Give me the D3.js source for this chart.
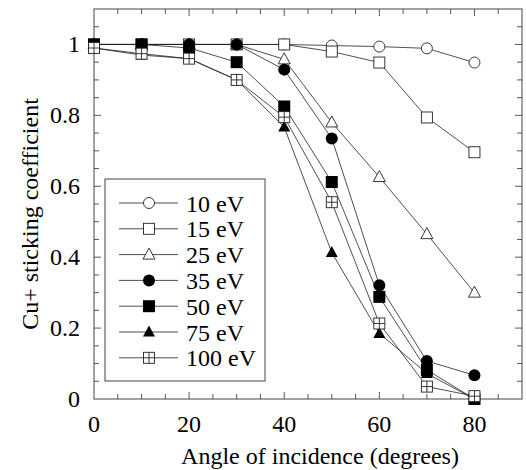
<!DOCTYPE html>
<html>
<head>
<meta charset="utf-8">
<script src="https://cdn.jsdelivr.net/npm/d3@7"></script>
<style>
  body { margin: 0; background: #fff; }
  svg { display: block; }
</style>
</head>
<body>
<svg id="chart" width="526" height="470"></svg>
<script>
// Incidence angles (degrees)
const angles = [0, 10, 20, 30, 40, 50, 60, 70, 80];

// Sticking coefficient per ion energy
const s10  = [1.00, 1.00, 1.00, 1.00, 1.000, 0.997, 0.994, 0.989, 0.949];
const s15  = [1.00, 1.00, 1.00, 1.00, 1.000, 0.980, 0.949, 0.794, 0.696];
const s25  = [1.00, 1.00, 1.00, 1.00, 0.958, 0.780, 0.626, 0.465, 0.300];
const s35  = [1.00, 1.00, 1.00, 1.00, 0.929, 0.735, 0.321, 0.107, 0.067];
const s50  = [1.00, 1.00, 0.99, 0.95, 0.825, 0.612, 0.288, 0.082, 0.000];
const s75  = [0.99, 0.97, 0.96, 0.90, 0.767, 0.413, 0.185, 0.072, 0.000];
const s100 = [0.99, 0.974, 0.96, 0.90, 0.795, 0.555, 0.213, 0.035, 0.008];

const seriesLabels = ["10 eV", "15 eV", "25 eV", "35 eV", "50 eV", "75 eV", "100 eV"];
const seriesValues = [s10, s15, s25, s35, s50, s75, s100];
const seriesMarkers = ["circleOpen", "squareOpen", "triangleOpen", "circleFilled", "squareFilled", "triangleFilled", "squarePlus"];
// drawing order (indices into the series arrays)
const drawOrder = [0, 1, 2, 4, 3, 5, 6];

const xTicks = [0, 20, 40, 60, 80];
const yTicks = [0, 0.2, 0.4, 0.6, 0.8, 1];

const FONT = '"Liberation Serif"';
const FS = "24px";

const svg = d3.select("#chart");
const L = 94, T = 9, R = 522, B = 399;

const x = d3.scaleLinear().domain([0, 90]).range([L, R]);
const y = d3.scaleLinear().domain([0, 1.1]).range([B, T]);

const frameColor = "#444";

// minor ticks every 5 degrees / 0.05, all pointing inward
const xMinor = d3.range(5, 90, 5);
const yMinor = d3.range(0.05, 1.1, 0.05);

const g = svg.append("g");

function txt(sel) {
  return sel.style("font-family", FONT).style("font-size", FS).attr("fill", "#000");
}

function axisTicks() {
  const tg = g.append("g").attr("stroke", frameColor).attr("stroke-width", 0.9);
  xMinor.forEach(v => {
    const len = (v % 20 === 0) ? 7 : 5;
    tg.append("line").attr("x1", x(v)).attr("x2", x(v)).attr("y1", B).attr("y2", B - len);
    tg.append("line").attr("x1", x(v)).attr("x2", x(v)).attr("y1", T).attr("y2", T + len);
  });
  yMinor.forEach(v => {
    const major = Math.abs(Math.round(v * 10) - v * 10) < 1e-6 && Math.round(v * 10) % 2 === 0;
    const len = major ? 7 : 5;
    tg.append("line").attr("y1", y(v)).attr("y2", y(v)).attr("x1", L).attr("x2", L + len);
    tg.append("line").attr("y1", y(v)).attr("y2", y(v)).attr("x1", R).attr("x2", R - len);
  });
}
axisTicks();

// frame
g.append("rect")
  .attr("x", L).attr("y", T).attr("width", R - L).attr("height", B - T)
  .attr("fill", "none").attr("stroke", frameColor).attr("stroke-width", 1);

// tick labels
txt(g.selectAll(".xl").data(xTicks).enter().append("text")
  .attr("x", d => x(d)).attr("y", B + 33)
  .attr("text-anchor", "middle"))
  .text(d => d);
txt(g.selectAll(".yl").data(yTicks).enter().append("text")
  .attr("x", L - 14).attr("y", d => y(d) + 7.5)
  .attr("text-anchor", "end"))
  .text(d => d === 0 ? "0" : (d === 1 ? "1" : d.toFixed(1)));

// axis titles
txt(g.append("text").attr("x", 320).attr("y", 464)
  .attr("text-anchor", "middle"))
  .text("Angle of incidence (degrees)");
txt(g.append("text")
  .attr("transform", "translate(38,214) rotate(-90)")
  .attr("text-anchor", "middle"))
  .text("Cu+ sticking coefficient");

// marker drawing
function drawMarker(sel, type, cx, cy) {
  const m = sel.append("g").attr("transform", `translate(${cx},${cy})`);
  const sw = 0.9;
  switch (type) {
    case "circleOpen":
      m.append("circle").attr("r", 5.5).attr("fill", "#fff").attr("stroke", "#222").attr("stroke-width", sw);
      break;
    case "circleFilled":
      m.append("circle").attr("r", 6).attr("fill", "#000");
      break;
    case "squareOpen":
      m.append("rect").attr("x", -5.5).attr("y", -5.5).attr("width", 11).attr("height", 11)
        .attr("fill", "#fff").attr("stroke", "#222").attr("stroke-width", sw);
      break;
    case "squareFilled":
      m.append("rect").attr("x", -6).attr("y", -6).attr("width", 12).attr("height", 12).attr("fill", "#000");
      break;
    case "squarePlus":
      m.append("rect").attr("x", -5.5).attr("y", -5.5).attr("width", 11).attr("height", 11)
        .attr("fill", "#fff").attr("stroke", "#222").attr("stroke-width", sw);
      m.append("path").attr("d", "M0,-5.5V5.5M-5.5,0H5.5").attr("stroke", "#222").attr("stroke-width", sw);
      break;
    case "triangleOpen":
      m.append("path").attr("d", "M0,-6.5L6,4.5L-6,4.5Z")
        .attr("fill", "#fff").attr("stroke", "#222").attr("stroke-width", sw);
      break;
    case "triangleFilled":
      m.append("path").attr("d", "M0,-6.5L6,4.5L-6,4.5Z").attr("fill", "#000");
      break;
  }
}

const line = d3.line().x(d => x(d[0])).y(d => y(d[1]));

const plot = g.append("g");
drawOrder.forEach(i => {
  const pts = angles.map((a, k) => [a, seriesValues[i][k]]);
  plot.append("path").datum(pts).attr("d", line)
    .attr("fill", "none").attr("stroke", "#222").attr("stroke-width", 0.8);
});
drawOrder.forEach(i => {
  angles.forEach((a, k) => drawMarker(plot, seriesMarkers[i], x(a), y(seriesValues[i][k])));
});

// legend
const lg = g.append("g");
lg.append("rect").attr("x", 105).attr("y", 179).attr("width", 160).attr("height", 202)
  .attr("fill", "#fff").attr("stroke", frameColor).attr("stroke-width", 1);
seriesLabels.forEach((lab, i) => {
  const ly = 203 + i * 25.8;
  lg.append("line").attr("x1", 119).attr("x2", 178).attr("y1", ly).attr("y2", ly)
    .attr("stroke", "#222").attr("stroke-width", 0.8);
  drawMarker(lg, seriesMarkers[i], 149, ly);
  txt(lg.append("text").attr("x", 186).attr("y", ly + 8.5)).text(lab);
});
</script>
</body>
</html>
